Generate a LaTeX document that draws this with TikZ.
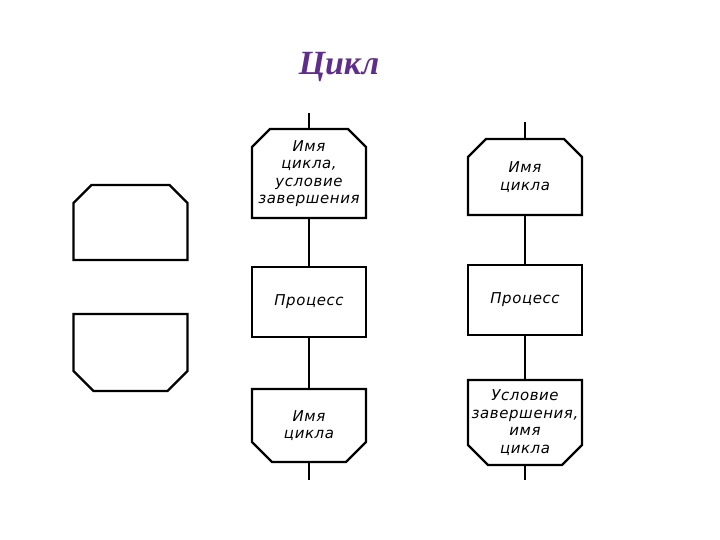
\documentclass[tikz,border=0pt]{standalone}
\usepackage{fontspec}
\setmainfont{Liberation Serif}
\newfontfamily\sketchfont[LetterSpace=4]{DejaVu Sans}
\usetikzlibrary{positioning}
\definecolor{titleviolet}{RGB}{95,45,140}
% outline of the loop limit symbols round a named node
\newcommand{\drawloopopen}[1]{\draw[edge] (#1.south west)
  -- ([yshift=-18bp]#1.north west) -- ([xshift=18bp]#1.north west)
  -- ([xshift=-18bp]#1.north east) -- ([yshift=-18bp]#1.north east)
  -- (#1.south east) -- cycle;}
\newcommand{\drawloopclose}[1]{\draw[edge] (#1.north west)
  -- ([yshift=20bp]#1.south west) -- ([xshift=20bp]#1.south west)
  -- ([xshift=-20bp]#1.south east) -- ([yshift=20bp]#1.south east)
  -- (#1.north east) -- cycle;}

\begin{document}
\begin{tikzpicture}[x=1bp, y=-1bp,
  edge/.style={line width=2.4bp, line join=miter},
  plate/.style={minimum width=114bp, inner sep=0pt, outer sep=0pt,
    align=center, font=\fontsize{15}{17.5}\sketchfont\itshape},
  procbox/.style={plate, draw, edge, minimum height=70bp},
  link/.style={line width=2.2bp}]
\useasboundingbox (0,0) rectangle (720,540);
\node (title) at (339,67)
  {\fontsize{34}{40}\selectfont\color{titleviolet}\bfseries\itshape Цикл};
% the two symbols on their own
\node (lopen) [plate, minimum height=75bp] at (130.5,222.5) {};
\node (lclose) [plate, minimum height=77bp] at (130.5,352.5) {};
\drawloopopen{lopen}
\drawloopclose{lclose}
% condition at the start of the loop
\node (mopen) [plate, minimum height=89bp] at (309,173.5)
  {Имя\\цикла,\\условие\\завершения};
\node (mproc) [procbox, below=49bp of mopen] {Процесс};
\node (mclose) [plate, minimum height=73bp, below=52bp of mproc]
  {Имя\\цикла};
\drawloopopen{mopen}
\drawloopclose{mclose}
\coordinate (min) at (309,113);
\coordinate (mout) at (309,480);
\draw[link] (min) -- (mopen);
\draw[link] (mopen) -- (mproc);
\draw[link] (mproc) -- (mclose);
\draw[link] (mclose) -- (mout);
% condition at the end of the loop
\node (ropen) [plate, minimum height=76bp] at (525,177) {Имя\\цикла};
\node (rproc) [procbox, below=50bp of ropen] {Процесс};
\node (rclose) [plate, minimum height=85bp, below=45bp of rproc]
  {Условие\\завершения,\\имя\\цикла};
\drawloopopen{ropen}
\drawloopclose{rclose}
\coordinate (rin) at (525,122);
\coordinate (rout) at (525,480);
\draw[link] (rin) -- (ropen);
\draw[link] (ropen) -- (rproc);
\draw[link] (rproc) -- (rclose);
\draw[link] (rclose) -- (rout);
\end{tikzpicture}
\end{document}
